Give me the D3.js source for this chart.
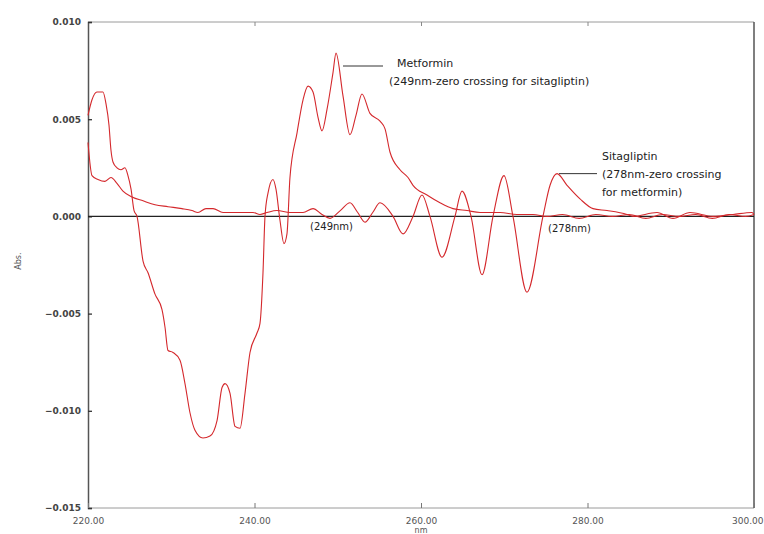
<!DOCTYPE html>
<html>
<head>
<meta charset="utf-8">
<script src="https://cdn.jsdelivr.net/npm/d3@7/dist/d3.min.js"></script>
<style>
  html, body { margin: 0; padding: 0; background: #fff; }
  svg { display: block; font-family: "DejaVu Sans", Verdana, sans-serif; }
</style>
</head>
<body>
<svg id="chart" width="764" height="534"></svg>
<script>
// First-derivative spectra (wavelength in nm, absorbance)
const metforminNm = [220.00, 220.48, 221.08, 221.80, 222.16, 222.52, 222.76, 223.00, 223.48, 223.96,
  224.44, 224.80, 225.17, 225.53, 225.89, 226.61, 227.21, 228.05, 228.89, 229.25, 229.61, 230.21,
  231.05, 231.65, 232.25, 232.85, 233.81, 234.65, 235.50, 236.10, 236.46, 237.06, 237.66, 238.26,
  238.86, 239.46, 240.30, 240.66, 241.02, 241.26, 241.62, 242.22, 242.58, 243.06, 243.54, 243.90,
  244.26, 245.11, 245.83, 246.43, 247.03, 247.63, 248.11, 248.71, 249.43, 249.79, 250.63, 251.47,
  252.19, 252.91, 253.87, 255.08, 255.68, 256.28, 257.48, 258.44, 259.04, 260.72, 262.28, 263.84,
  265.53, 267.09, 269.49, 271.53, 273.45, 275.14, 277.0, 279.0, 281.0, 283.0, 285.0, 287.0, 289.0,
  291.0, 293.0, 295.0, 297.0, 299.0, 300.0];
const metforminAbs = [0.0052, 0.0060, 0.0064, 0.0064, 0.0058, 0.0047, 0.0034, 0.0028, 0.0025, 0.0024,
  0.0025, 0.0021, 0.0014, 0.0003, 0.0000, -0.0023, -0.0029, -0.0040, -0.0048, -0.0057, -0.0069, -0.0070,
  -0.0074, -0.0086, -0.0101, -0.0110, -0.0114, -0.0113, -0.0105, -0.0088, -0.0086, -0.0091, -0.0108, -0.0109,
  -0.0091, -0.0070, -0.0060, -0.0055, -0.0029, 0.0000, 0.0012, 0.0019, 0.0014, -0.0002, -0.0014, -0.0009,
  0.0020, 0.0043, 0.0060, 0.0067, 0.0064, 0.0051, 0.0044, 0.0055, 0.0074, 0.0084, 0.0062, 0.0042,
  0.0052, 0.0063, 0.0053, 0.0049, 0.0045, 0.0033, 0.0024, 0.0020, 0.0016, 0.0011, 0.0007, 0.0004,
  0.0003, 0.0002, 0.0002, 0.0001, 0.0001, 0.0000, 0.0001, -0.0001, 0.0001, 0.0000, 0.0001, -0.0001, 0.0001,
  0.0000, 0.0001, -0.0001, 0.0001, 0.0000, 0.0001];

const sitagliptinNm = [220.00, 220.48, 221.20, 222.04, 222.76, 223.48, 224.20, 225.29, 226.61, 228.05,
  229.61, 231.29, 232.49, 233.21, 234.17, 235.02, 236.22, 237.42, 239.82, 240.66, 241.50, 242.70,
  244.26, 245.83, 247.03, 248.11, 249.07, 250.30, 251.47, 252.40, 253.27, 254.20, 255.08, 256.64,
  257.84, 259.04, 260.12, 261.08, 262.52, 264.08, 264.92, 266.01, 267.33, 268.65, 269.97, 271.05,
  272.73, 274.65, 275.50, 276.34, 277.54, 279.10, 280.66, 282.34, 284.74, 285.47, 288.35, 290.27,
  292.31, 295.08, 297.48, 299.76, 300.00];
const sitagliptinAbs = [0.0038, 0.0021, 0.0019, 0.0018, 0.0020, 0.0017, 0.0013, 0.0010, 0.0008, 0.0006,
  0.0005, 0.0004, 0.0003, 0.0002, 0.0004, 0.0004, 0.0002, 0.0002, 0.0002, 0.0001, 0.0002, 0.0003,
  0.0002, 0.0002, 0.0004, 0.0001, -0.0001, 0.0003, 0.0007, 0.0002, -0.0003, 0.0002, 0.0007, 0.0000,
  -0.0009, 0.0000, 0.0011, 0.0000, -0.0021, 0.0000, 0.0013, 0.0000, -0.0030, 0.0000, 0.0021, 0.0000,
  -0.0039, 0.0000, 0.0016, 0.0022, 0.0016, 0.0009, 0.0004, 0.0003, 0.0001, 0.0000, 0.0002, -0.0001,
  0.0002, 0.0000, 0.0001, 0.0002, 0.0001];

const xTicks = [220, 240, 260, 280, 300];
const yTicks = [-0.015, -0.010, -0.005, 0.000, 0.005, 0.010];

const svg = d3.select("#chart");
const margin = { left: 88, top: 22, right: 10, bottom: 26 };
const W = 764, H = 534;
const x = d3.scaleLinear().domain([220, 300]).range([margin.left, W - margin.right]);
const y = d3.scaleLinear().domain([-0.015, 0.010]).range([H - margin.bottom, margin.top]);

const x0 = x.range()[0], x1 = x.range()[1];
const y0 = y.range()[0], y1 = y.range()[1];

// frame: top and bottom lighter, left and right darker
svg.append("line").attr("x1", x0).attr("x2", x1).attr("y1", y1).attr("y2", y1)
  .attr("stroke", "#9a9a9a").attr("stroke-width", 1);
svg.append("line").attr("x1", x0).attr("x2", x1).attr("y1", y0).attr("y2", y0)
  .attr("stroke", "#9a9a9a").attr("stroke-width", 1);
svg.append("line").attr("x1", x1).attr("x2", x1).attr("y1", y1).attr("y2", y0)
  .attr("stroke", "#555").attr("stroke-width", 1.5);

// Y axis with inward ticks
const yAxis = d3.axisLeft(y).tickValues(yTicks).tickSize(-4).tickPadding(7)
  .tickFormat(d3.format(".3f"));
const gy = svg.append("g").attr("transform", `translate(${x0},0)`).call(yAxis);
gy.select(".domain").attr("stroke", "#555").attr("stroke-width", 1.5);
gy.selectAll(".tick line").attr("stroke", "#333").attr("stroke-width", 1.3);
gy.selectAll(".tick text").attr("font-size", 9).attr("font-weight", "bold")
  .attr("fill", "#444").attr("font-family", "DejaVu Sans, sans-serif");

// X axis with ticks pointing up into the plot
const xAxis = d3.axisBottom(x).tickValues(xTicks).tickSize(-5).tickPadding(10)
  .tickFormat(d3.format(".2f"));
const gx = svg.append("g").attr("transform", `translate(0,${y0})`).call(xAxis);
gx.select(".domain").remove();
gx.selectAll(".tick line").attr("stroke", "#777").attr("stroke-width", 1);
gx.selectAll(".tick text").attr("font-size", 9).attr("fill", "#555")
  .attr("font-family", "DejaVu Sans, sans-serif");
// keep the last label inside the page edge
gx.selectAll(".tick text").filter(d => d === 300).attr("text-anchor", "end").attr("dx", 9);

// top ticks
const xTop = d3.axisTop(x).tickValues(xTicks.slice(1, -1)).tickSize(-4).tickFormat("");
const gt = svg.append("g").attr("transform", `translate(0,${y1})`).call(xTop);
gt.select(".domain").remove();
gt.selectAll(".tick line").attr("stroke", "#888");

// zero baseline
svg.append("line").attr("x1", x0).attr("x2", x1).attr("y1", y(0)).attr("y2", y(0))
  .attr("stroke", "#222").attr("stroke-width", 1.2);

// axis titles
svg.append("text").attr("x", x(260)).attr("y", 533).attr("text-anchor", "middle")
  .attr("font-size", 8).attr("fill", "#555").text("nm");
svg.append("text").attr("transform", `translate(21,${y(-0.0023)}) rotate(-90)`)
  .attr("text-anchor", "middle").attr("font-size", 8).attr("fill", "#555").text("Abs.");

// spectra
const line = d3.line().x(d => x(d[0])).y(d => y(d[1])).curve(d3.curveMonotoneX);
const mData = metforminNm.map((v, i) => [v, metforminAbs[i]]);
const sData = sitagliptinNm.map((v, i) => [v, sitagliptinAbs[i]]);
svg.append("path").datum(mData).attr("d", line).attr("fill", "none")
  .attr("stroke", "#d4282c").attr("stroke-width", 1.1);
svg.append("path").datum(sData).attr("d", line).attr("fill", "none")
  .attr("stroke", "#d4282c").attr("stroke-width", 1.1);

// annotations
const ann = svg.append("g").attr("font-size", 11).attr("fill", "#222");
const mPeak = d3.greatest(mData, d => d[1]);
ann.append("line").attr("x1", x(mPeak[0]) + 7).attr("x2", 383)
  .attr("y1", 66).attr("y2", 66).attr("stroke", "#333").attr("stroke-width", 1);
ann.append("text").attr("x", 397).attr("y", 67).text("Metformin");
ann.append("text").attr("x", 389).attr("y", 85).text("(249nm-zero crossing for sitagliptin)");

const sPeak = d3.greatest(sData.filter(d => d[0] > 274), d => d[1]);
ann.append("line").attr("x1", x(sPeak[0]) + 2).attr("x2", 597)
  .attr("y1", y(sPeak[1])).attr("y2", y(sPeak[1])).attr("stroke", "#333").attr("stroke-width", 1);
ann.append("text").attr("x", 602).attr("y", 160).text("Sitagliptin");
ann.append("text").attr("x", 602).attr("y", 178).text("(278nm-zero crossing");
ann.append("text").attr("x", 602).attr("y", 196).text("for metformin)");

ann.append("text").attr("x", 310).attr("y", 230).attr("font-size", 10).text("(249nm)");
ann.append("text").attr("x", 548).attr("y", 232).attr("font-size", 10).text("(278nm)");
</script>
</body>
</html>
